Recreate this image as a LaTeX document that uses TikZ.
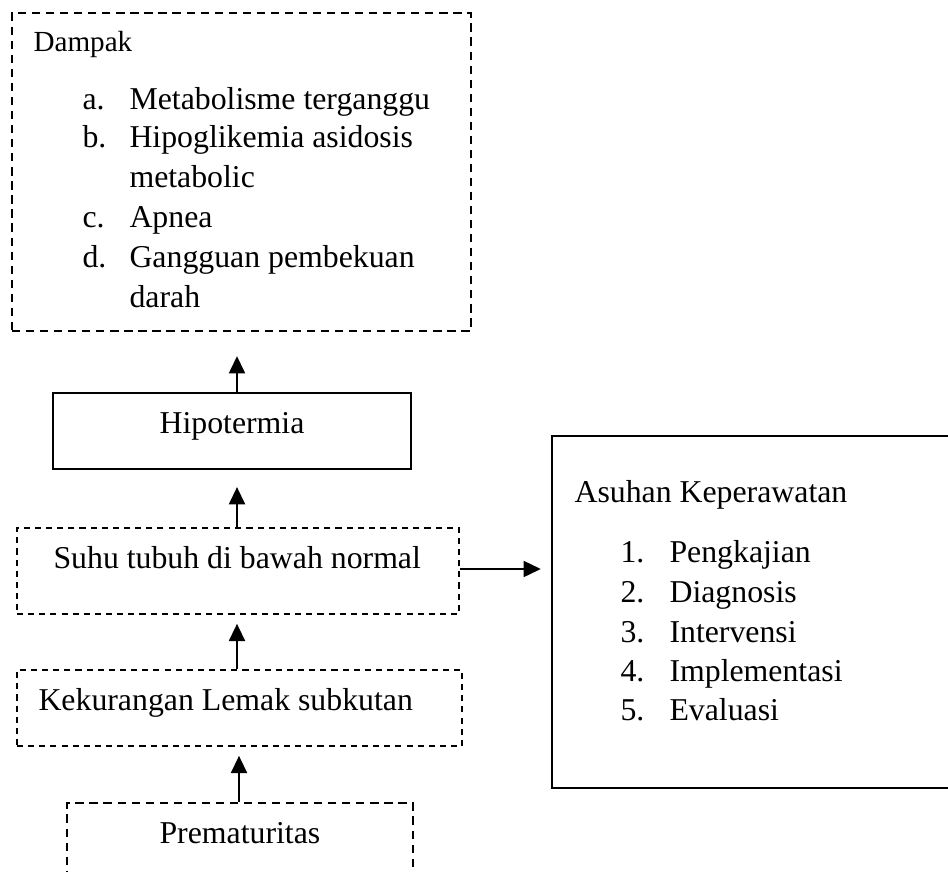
\documentclass[tikz,border=0pt]{standalone}
\usepackage{fontspec}
\setmainfont{Liberation Serif}
\usetikzlibrary{fit,arrows.meta}
\tikzset{
  thickdash/.style={draw, line width=0.85pt, dash pattern=on 3.1pt off 2.2pt, inner sep=0pt},
  thindash/.style={draw, line width=0.6pt, dash pattern=on 2.3pt off 1.9pt, inner sep=0pt},
  solidbox/.style={draw, line width=0.85pt, inner sep=0pt},
  txt/.style={anchor=base west, inner sep=0pt, font=\fontsize{12}{15}\selectfont},
  smalltxt/.style={anchor=base west, inner sep=0pt, font=\fontsize{11}{14}\selectfont},
  arr/.style={-{Triangle[length=6.5pt,width=6pt]}, line width=0.85pt}
}
\begin{document}
\begin{tikzpicture}[x=0.3774pt, y=-0.3774pt]
\clip (0,0) rectangle (948,871);
\fill[white] (0,0) rectangle (948,871);
% boxes
\node[thickdash, fit={(12,13) (471,331)}] (dampak) {};
\node[solidbox, fit={(53,393) (411,469)}] (hipo) {};
\node[thindash, fit={(17,528) (459,614)}] (suhu) {};
\node[thindash, fit={(17,670) (462,746)}] (kek) {};
\node[thickdash, fit={(67,803) (413,900)}] (prem) {};
\node[solidbox, fit={(552,436) (1000,788)}] (asuhan) {};
% texts
\node[smalltxt] (tdampak) at (33,52) {Dampak};
\node[txt] (la) at (82,110) {a.};
\node[txt] (ia) at (129,110) {Metabolisme terganggu};
\node[txt] (lb) at (82,148) {b.};
\node[txt] (ib) at (129,148) {Hipoglikemia asidosis};
\node[txt] (ib2) at (129,188) {metabolic};
\node[txt] (lc) at (82,228) {c.};
\node[txt] (ic) at (129,228) {Apnea};
\node[txt] (ld) at (82,268) {d.};
\node[txt] (id) at (129,268) {Gangguan pembekuan};
\node[txt] (id2) at (129,308) {darah};
\node[txt, anchor=base] (thipo) at (232,433) {Hipotermia};
\node[txt] (tsuhu) at (53,568) {Suhu tubuh di bawah normal};
\node[txt] (tkek) at (38,710) {Kekurangan Lemak subkutan};
\node[txt] (tprem) at (159,843) {Prematuritas};
\node[txt] (tasuhan) at (574,502) {Asuhan Keperawatan};
\node[txt] (n1) at (620,562) {1.};
\node[txt] (s1) at (669,562) {Pengkajian};
\node[txt] (n2) at (620,602) {2.};
\node[txt] (s2) at (669,602) {Diagnosis};
\node[txt] (n3) at (620,642) {3.};
\node[txt] (s3) at (669,642) {Intervensi};
\node[txt] (n4) at (620,681) {4.};
\node[txt] (s4) at (669,681) {Implementasi};
\node[txt] (n5) at (620,720) {5.};
\node[txt] (s5) at (669,720) {Evaluasi};
% connector guides
\coordinate (ax) at (237,0);
\coordinate (bx) at (239,0);
\coordinate (ay) at (0,569);
% connectors
\draw[arr, shorten >=9.06pt] (hipo.north -| ax) -- (dampak.south -| ax);
\draw[arr, shorten >=6.4pt] (suhu.north -| ax) -- (hipo.south -| ax);
\draw[arr, shorten >=3.4pt] (kek.north -| ax) -- (suhu.south -| ax);
\draw[arr, shorten >=3.4pt] (prem.north -| bx) -- (kek.south -| bx);
\draw[arr, shorten >=3.8pt] (suhu.east |- ay) -- (asuhan.west |- ay);
\end{tikzpicture}
\end{document}
